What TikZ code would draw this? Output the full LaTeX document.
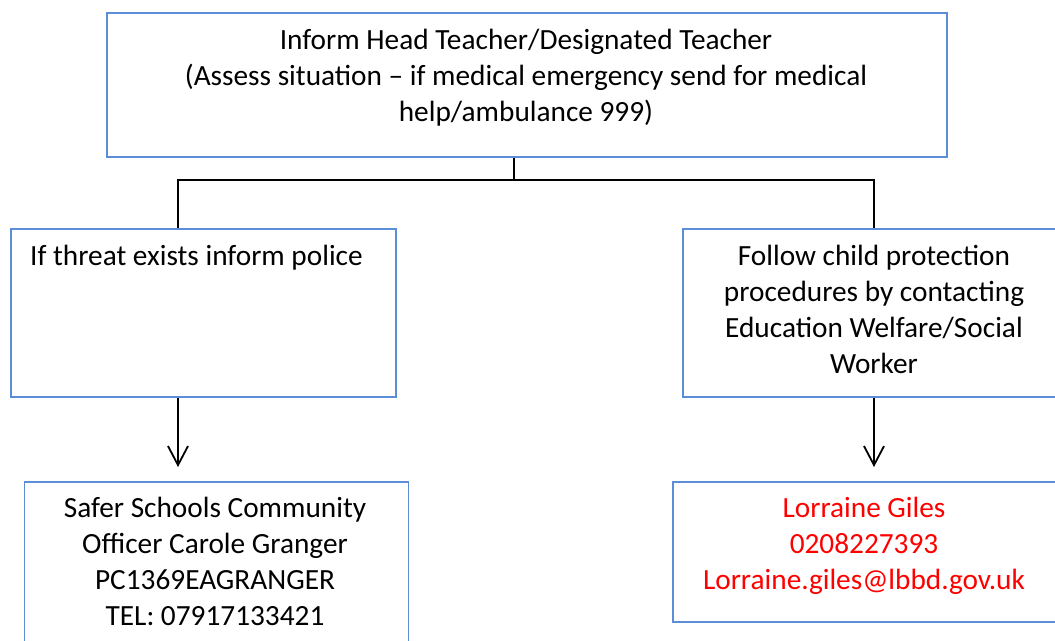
\documentclass[tikz,border=0pt]{standalone}
\usepackage{fontspec}
\setmainfont{Carlito}
\usetikzlibrary{arrows.meta}
\definecolor{boxblue}{RGB}{91,142,214}
\definecolor{redtxt}{RGB}{255,0,0}
\begin{document}
\begin{tikzpicture}[x=1pt,y=-1pt,
  boxnode/.style={draw=boxblue,line width=1.6pt,fill=none,rectangle,inner sep=0pt,anchor=north west},
  txt/.style={align=center,anchor=base,inner sep=0pt,font=\fontsize{29.3}{36}\selectfont},
  conn/.style={draw=black,line width=1.8pt},
  arr/.style={conn,-{Straight Barb[length=19pt,width=20pt,line width=1.8pt]}}]
\useasboundingbox (0,0) rectangle (1055,640);
\clip (0,0) rectangle (1055,640);
% boxes
\node[boxnode,minimum width=840pt,minimum height=144pt] (top) at (106,12) {};
\node[boxnode,minimum width=385pt,minimum height=168pt] (left) at (10,228) {};
\node[boxnode,minimum width=384pt,minimum height=168pt] (right) at (682,228) {};
\node[boxnode,minimum width=384pt,minimum height=180pt] (bl) at (23.5,481) {};
\node[boxnode,minimum width=386pt,minimum height=140pt] (br) at (672,481) {};
% texts (anchor base = baseline of the last line)
\node[txt] (toptext) at (526,121) {Inform Head Teacher/Designated Teacher\\(Assess situation -- if medical emergency send for medical\\help/ambulance 999)};
\node[txt] (lefttext) at (196.5,265) {If threat exists inform police};
\node[txt] (righttext) at (874,373) {Follow child protection\\procedures by contacting\\Education Welfare/Social\\Worker};
\node[txt] (bltext) at (215,625) {Safer Schools Community\\Officer Carole Granger\\PC1369EAGRANGER\\TEL: 07917133421};
\node[txt,text=redtxt] (brtext) at (864,589) {Lorraine Giles\\0208227393\\Lorraine.giles@lbbd.gov.uk};
% connectors
\coordinate (j) at (514,180);
\coordinate (jl) at (178,180);
\coordinate (jr) at (874,180);
\draw[conn] (top.south -| j) -- (j);
\draw[conn] (left.north -| jl) -- (jl) -- (jr) -- (right.north -| jr);
\coordinate (al) at (178,467);
\coordinate (ar) at (874,467);
\draw[arr] (left.south -| al) -- (al);
\draw[arr] (right.south -| ar) -- (ar);
\end{tikzpicture}
\end{document}
